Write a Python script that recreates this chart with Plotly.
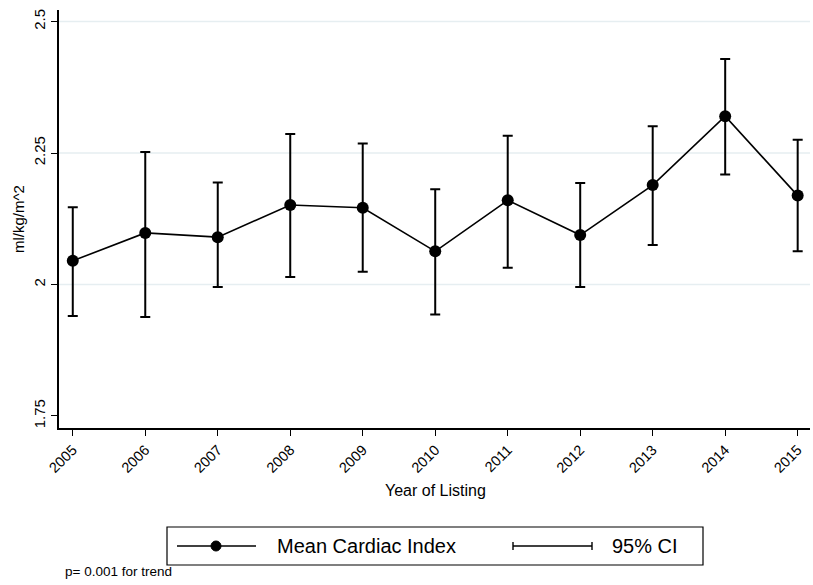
import plotly.graph_objects as go

years = [2005, 2006, 2007, 2008, 2009, 2010, 2011, 2012, 2013, 2014, 2015]
mean_ci = [2.045, 2.098, 2.090, 2.151, 2.146, 2.063, 2.160, 2.094, 2.189, 2.320, 2.169]
ci_upper = [2.147, 2.252, 2.194, 2.286, 2.268, 2.181, 2.283, 2.193, 2.301, 2.429, 2.275]
ci_lower = [1.940, 1.938, 1.995, 2.014, 2.024, 1.943, 2.032, 1.995, 2.075, 2.209, 2.063]
y_ticks = [1.75, 2.0, 2.25, 2.5]
y_ticklabels = ["1.75", "2", "2.25", "2.5"]
grid_values = [2.0, 2.25, 2.5]

W, H = 813, 585
L, R, T, B = 59, 3, 10, 157
pw, ph = W - L - R, H - T - B

def px(x):
    return (x - L) / pw

def py(y):
    return (H - B - y) / ph

FONT = "Liberation Sans, Arial, sans-serif"

fig = go.Figure()
fig.add_trace(go.Scatter(
    x=years, y=mean_ci, mode="lines+markers",
    line=dict(color="black", width=1.6),
    marker=dict(color="black", size=12),
    error_y=dict(type="data", symmetric=False,
                 array=[u - m for u, m in zip(ci_upper, mean_ci)],
                 arrayminus=[m - l for m, l in zip(mean_ci, ci_lower)],
                 color="black", thickness=2, width=5),
    showlegend=False,
))

shapes = []
annotations = []
for g in grid_values:
    shapes.append(dict(type="line", xref="paper", yref="y", x0=0, x1=1, y0=g, y1=g,
                       layer="below", line=dict(color="#e6eef1", width=1.5)))
# manual legend
shapes.append(dict(type="rect", xref="paper", yref="paper",
                   x0=px(167), x1=px(703), y0=py(565), y1=py(527),
                   line=dict(color="black", width=1.2), fillcolor="white"))
ly = py(546)
shapes.append(dict(type="line", xref="paper", yref="paper",
                   x0=px(177), x1=px(256), y0=ly, y1=ly,
                   line=dict(color="black", width=1.6)))
shapes.append(dict(type="circle", xref="paper", yref="paper",
                   x0=px(211), x1=px(221), y0=py(551), y1=py(541),
                   line=dict(color="black", width=1), fillcolor="black"))
annotations.append(dict(text="Mean Cardiac Index", xref="paper", yref="paper",
                        x=px(275), y=ly, xanchor="left", yanchor="middle",
                        showarrow=False, font=dict(family=FONT, size=20, color="black")))
shapes.append(dict(type="line", xref="paper", yref="paper",
                   x0=px(513), x1=px(592), y0=ly, y1=ly,
                   line=dict(color="black", width=1.4)))
for xc in (513, 592):
    shapes.append(dict(type="line", xref="paper", yref="paper",
                       x0=px(xc), x1=px(xc), y0=py(550), y1=py(542),
                       line=dict(color="black", width=1.4)))
annotations.append(dict(text="95% CI", xref="paper", yref="paper",
                        x=px(610), y=ly, xanchor="left", yanchor="middle",
                        showarrow=False, font=dict(family=FONT, size=20, color="black")))
annotations.append(dict(text="p= 0.001 for trend", xref="paper", yref="paper",
                        x=px(63), y=py(571), xanchor="left", yanchor="middle",
                        showarrow=False, font=dict(family=FONT, size=13.5, color="black")))
annotations.append(dict(text="Year of Listing", xref="paper", yref="paper",
                        x=px(435), y=py(490), xanchor="center", yanchor="middle",
                        showarrow=False, font=dict(family=FONT, size=16, color="black")))
annotations.append(dict(text="ml/kg/m^2", xref="paper", yref="paper",
                        x=px(18), y=py(219), xanchor="center", yanchor="middle",
                        textangle=-90,
                        showarrow=False, font=dict(family=FONT, size=15, color="black")))

fig.update_layout(
    width=W, height=H,
    margin=dict(l=L, r=R, t=T, b=B),
    paper_bgcolor="white", plot_bgcolor="white",
    font=dict(family=FONT, color="black"),
    shapes=shapes, annotations=annotations,
    xaxis=dict(range=[2004.81, 2015.17], tickmode="array", tickvals=years,
               ticktext=[str(y) for y in years], tickangle=-45,
               ticks="outside", ticklen=6, tickwidth=1.2, tickcolor="black",
               showline=True, linecolor="black", linewidth=1.5,
               showgrid=False, zeroline=False,
               tickfont=dict(family=FONT, size=14.5, color="black")),
    yaxis=dict(range=[1.727, 2.522], tickmode="array", tickvals=y_ticks,
               ticktext=y_ticklabels, tickangle=-90,
               ticks="outside", ticklen=6, tickwidth=1.2, tickcolor="black",
               showline=True, linecolor="black", linewidth=1.5,
               showgrid=False, zeroline=False,
               tickfont=dict(family=FONT, size=15, color="black")),
)

fig.write_html("out.html")
